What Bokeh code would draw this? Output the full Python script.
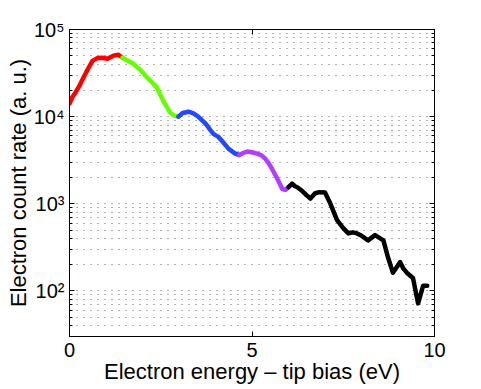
import numpy as np
from bokeh.plotting import figure
from bokeh.models import (FixedTicker, LogAxis, LinearAxis, CustomJSTickFormatter,
                          Range1d)
from bokeh.embed import file_html
from bokeh.resources import INLINE

# ---- data ----
red_x = [0.0, 0.08, 0.16, 0.27, 0.38, 0.5, 0.63, 0.76, 0.9, 1.04, 1.2, 1.34, 1.45]
red_y = [14100, 16800, 18800, 22500, 28000, 35000, 43700, 47000, 47400, 46200, 50100, 51300, 47400]

green_x = [1.45, 1.75, 1.95, 2.13, 2.27, 2.4, 2.57, 2.76, 2.88, 2.98]
green_y = [47400, 40400, 34000, 28000, 24500, 21400, 15100, 11100, 10200, 10000]

blue_x = [2.98, 3.1, 3.26, 3.38, 3.5, 3.62, 3.73, 3.85, 3.95, 4.07, 4.18, 4.36, 4.54, 4.65]
blue_y = [10000, 11000, 11400, 11000, 10200, 9200, 8300, 7100, 6300, 5900, 5250, 4270, 3760, 3630]

purple_x = [4.65, 4.77, 4.87, 5.0, 5.14, 5.25, 5.36, 5.45, 5.55, 5.69, 5.83, 5.92, 6.0]
purple_y = [3630, 3850, 3980, 3900, 3760, 3620, 3310, 2950, 2510, 1950, 1480, 1450, 1550]

black_x = [6.0, 6.1, 6.17, 6.24, 6.37, 6.5, 6.6, 6.73, 6.85, 7.0, 7.14, 7.33, 7.5, 7.64,
           7.76, 7.88, 8.0, 8.18, 8.37, 8.6, 8.73, 8.86, 9.06, 9.15, 9.24, 9.41, 9.55, 9.69, 9.8]
black_y = [1550, 1700, 1600, 1550, 1410, 1250, 1150, 1320, 1360, 1350, 1020, 650, 525, 457,
           470, 457, 430, 380, 437, 380, 240, 162, 214, 180, 162, 141, 72, 115, 115]

segments = [
    (red_x, red_y, "#ff0000"),
    (green_x, green_y, "#66ff00"),
    (blue_x, blue_y, "#2448ff"),
    (purple_x, purple_y, "#b43cff"),
    (black_x, black_y, "#000000"),
]

y_major = [1e2, 1e3, 1e4, 1e5]
y_minor = [m * 10.0 ** e for e in range(1, 5) for m in range(2, 10) if m * 10.0 ** e >= 30]
x_major = [0, 5, 10]

FONT = "Liberation Sans"

p = figure(width=481, height=389, y_axis_type="log",
           x_range=Range1d(0, 10), y_range=Range1d(30, 1e5),
           output_backend="svg", toolbar_location=None,
           min_border_left=69, min_border_top=29, min_border_right=47, min_border_bottom=53)

for xs, ys, c in segments:
    p.line(xs, ys, line_color=c, line_width=4.5, line_join="round", line_cap="round")

yt = FixedTicker(ticks=y_major, minor_ticks=y_minor)
xt = FixedTicker(ticks=x_major, minor_ticks=[])

sup_fmt = CustomJSTickFormatter(code="""
const sup = {'0':'\u2070','1':'\u00b9','2':'\u00b2','3':'\u00b3','4':'\u2074','5':'\u2075','6':'\u2076','7':'\u2077','8':'\u2078','9':'\u2079'};
const e = Math.round(Math.log10(tick));
return '10' + String(e).split('').map(c => sup[c]).join('');
""")
empty_fmt = CustomJSTickFormatter(code="return '';")

def style(ax):
    ax.axis_line_color = "black"
    ax.axis_line_width = 1
    ax.major_tick_in = 5
    ax.major_tick_out = 0
    ax.minor_tick_in = 3
    ax.minor_tick_out = 0
    ax.major_tick_line_color = "black"
    ax.minor_tick_line_color = "black"
    ax.major_label_text_font = FONT
    ax.major_label_text_font_size = "20px"
    ax.major_label_text_color = "black"
    ax.axis_label_text_font = FONT
    ax.axis_label_text_font_size = "22px"
    ax.axis_label_text_font_style = "normal"
    ax.axis_label_text_color = "black"

yax = p.yaxis[0]
yax.ticker = yt
yax.formatter = sup_fmt
style(yax)
yax.major_label_standoff = 5
yax.axis_label = "Electron count rate (a. u.)"
yax.axis_label_standoff = 0

xax = p.xaxis[0]
xax.ticker = xt
style(xax)
xax.minor_tick_line_color = None
xax.major_label_standoff = 6
xax.axis_label = "Electron energy \u2013 tip bias (eV)"
xax.axis_label_standoff = -1

rax = LogAxis(ticker=yt, formatter=empty_fmt)
style(rax)
rax.major_label_text_font_size = "0px"
rax.major_label_standoff = 0
p.add_layout(rax, "right")

tax = LinearAxis(ticker=xt, formatter=empty_fmt)
style(tax)
tax.major_label_text_font_size = "0px"
tax.minor_tick_line_color = None
tax.major_label_standoff = 0
p.add_layout(tax, "above")

p.xgrid.visible = False
p.ygrid.ticker = yt
p.ygrid.grid_line_color = "#666666"
p.ygrid.grid_line_dash = "1 6"
p.ygrid.grid_line_width = 1
p.ygrid.minor_grid_line_color = "#666666"
p.ygrid.minor_grid_line_dash = "1 6"
p.ygrid.minor_grid_line_width = 1

p.outline_line_color = "black"
p.background_fill_color = "white"
p.border_fill_color = "white"

open("out.html", "w").write(file_html(p, INLINE))
